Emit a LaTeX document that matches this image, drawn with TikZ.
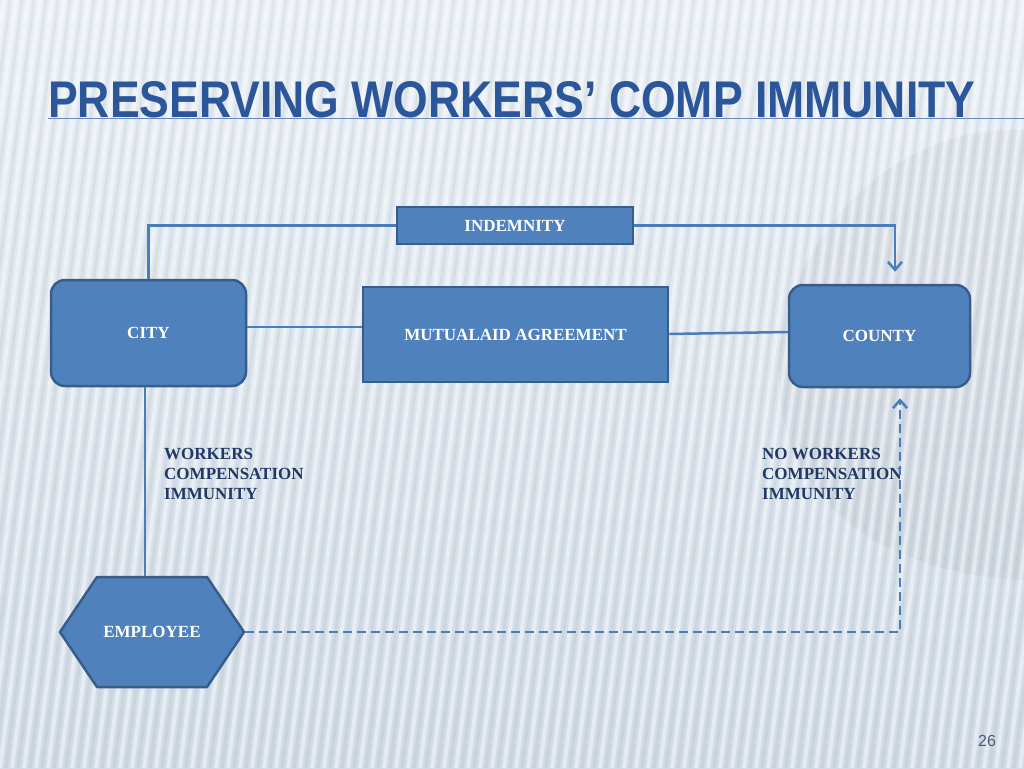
\documentclass[tikz,border=0pt]{standalone}
\usepackage{fontspec}
\setmainfont{Liberation Serif}
\newfontfamily\headfont{Liberation Sans}
\usetikzlibrary{positioning,arrows.meta}
\definecolor{boxfill}{RGB}{79,129,189}
\definecolor{boxline}{RGB}{56,93,138}
\definecolor{linkblue}{RGB}{74,126,187}
\definecolor{titleblue}{RGB}{43,87,154}
\definecolor{notenavy}{RGB}{31,56,100}
\definecolor{bgtop}{RGB}{233,239,245}
\definecolor{bgbottom}{RGB}{208,219,230}
\definecolor{pagegray}{RGB}{80,92,120}

\begin{document}
\begin{tikzpicture}[
    x=1pt, y=-1pt,
    >={Straight Barb[length=8pt,width=14pt]},
    block/.style={rectangle, draw=boxline, line width=2.5pt, fill=boxfill, inner sep=0pt,
                  text=white, font=\fontsize{17}{20}\selectfont\bfseries},
    party/.style={block, rounded corners=14pt},
    hexbox/.style={block, draw=none, fill=none},
    link/.style={draw=linkblue, line width=2.5pt},
    dashlink/.style={link, dash pattern=on 9pt off 5pt},
    note/.style={anchor=north west, inner sep=0pt, align=left, text=notenavy,
                 font=\fontsize{17}{20}\selectfont\bfseries}
  ]
  % Background
  \useasboundingbox (0,0) rectangle (1024,768);
  \begin{scope}
    \clip (0,0) rectangle (1024,768);
    \fill [top color=bgtop, bottom color=bgbottom] (0,0) rectangle (1024,768);
    \fill [black, opacity=0.035] (1024,130) .. controls (760,120) and (640,560) .. (1024,580) -- cycle;
    \foreach \x in {-120,-108,...,1024} {
      \draw [white, opacity=0.45, line width=4pt] (\x,768) -- (\x+100,0);
      \draw [black, opacity=0.04, line width=3pt] (\x+6,768) -- (\x+106,0);
    }
  \end{scope}

  % Title
  \draw [titleblue!70, line width=1pt] (48,118) -- (1024,118);
  \node [anchor=base west, inner sep=0pt, text=titleblue] (title) at (48,117)
    {\resizebox{927pt}{36pt}{\headfont\bfseries PRESERVING WORKERS’ COMP IMMUNITY}};

  % Blocks
  \node [party, minimum width=195pt, minimum height=106pt] (city) at (148.5,333) {CITY};
  \node [block, minimum width=236pt, minimum height=37pt] (indemnity) at (515,225.5) {INDEMNITY};
  \node [block, minimum width=305pt, minimum height=95pt] (mutual) at (515.5,334.5) {MUTUALAID AGREEMENT};
  \node [party, minimum width=181pt, minimum height=102pt] (county) at (879.5,336) {COUNTY};

  % hexagon behind the employee label
  \coordinate (hexc) at (152,632);
  \filldraw [draw=boxline, fill=boxfill, line width=2.5pt, line join=round]
    ([xshift=-92pt]hexc) -- ([xshift=-55pt,yshift=55pt]hexc) -- ([xshift=55pt,yshift=55pt]hexc)
    -- ([xshift=92pt]hexc) -- ([xshift=55pt,yshift=-55pt]hexc) -- ([xshift=-55pt,yshift=-55pt]hexc) -- cycle;
  \node [hexbox, minimum width=184pt, minimum height=110pt] (employee) at (hexc) {EMPLOYEE};

  \node [note] (wcomp) at (164,448) {WORKERS\\COMPENSATION\\IMMUNITY};
  \node [note] (nowcomp) at (762,448) {NO WORKERS\\COMPENSATION\\IMMUNITY};

  \node [text=pagegray, font=\headfont\fontsize{16}{18}\selectfont] (pagenum) at (987,741) {26};

  % Connections
  \draw [link] (city.north) |- (indemnity.west);
  \draw [link, ->, shorten >=12pt] (indemnity.east) -| ([xshift=15.5pt]county.north);
  \draw [link] ([yshift=6pt]city.east) -- ([yshift=7.5pt]mutual.west);
  \draw [link] ([yshift=0.5pt]mutual.east) -- ([yshift=4pt]county.west);
  \draw [link] ([xshift=-3.5pt]city.south) -- ([xshift=-7pt]employee.north);
  \draw [dashlink, ->, shorten >=10pt] (employee.east) -| ([xshift=20.5pt]county.south);
\end{tikzpicture}
\end{document}
